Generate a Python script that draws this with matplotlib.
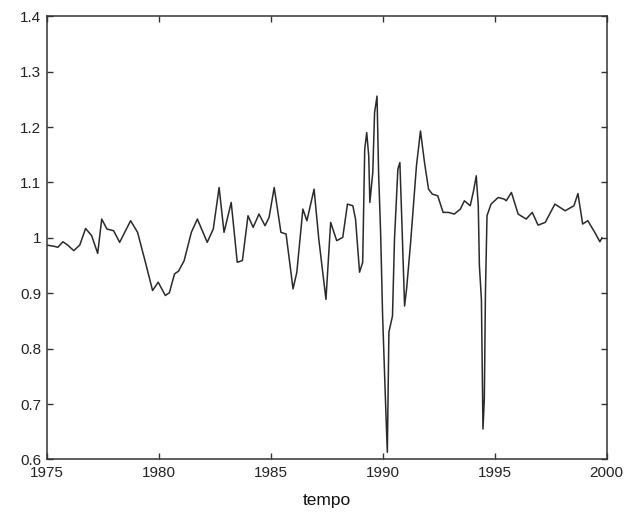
import matplotlib
matplotlib.use("Agg")
import matplotlib.pyplot as plt

# series (time in years, ratio value)
tempo = [
    1975.00, 1975.32, 1975.50, 1975.73, 1975.94, 1976.21, 1976.48, 1976.74,
    1977.01, 1977.28, 1977.46, 1977.69, 1977.99, 1978.26, 1978.75, 1979.06,
    1979.41, 1979.73, 1979.98, 1980.30, 1980.48, 1980.71, 1980.89, 1981.14,
    1981.46, 1981.73, 1982.17, 1982.44, 1982.70, 1982.92, 1983.24, 1983.51,
    1983.74, 1983.99, 1984.22, 1984.48, 1984.75, 1984.93, 1985.16, 1985.46,
    1985.69, 1986.00, 1986.17, 1986.44, 1986.62, 1986.94, 1987.15, 1987.47,
    1987.68, 1987.95, 1988.22, 1988.43, 1988.67, 1988.79, 1988.97, 1989.11,
    1989.20, 1989.29, 1989.38, 1989.43, 1989.56, 1989.64, 1989.75, 1989.82,
    1989.91, 1990.00, 1990.14, 1990.21, 1990.28, 1990.44, 1990.53, 1990.68,
    1990.77, 1990.85, 1990.98, 1991.07, 1991.25, 1991.51, 1991.69, 1991.87,
    1992.05, 1992.22, 1992.46, 1992.70, 1992.94, 1993.20, 1993.47, 1993.65,
    1993.91, 1994.06, 1994.18, 1994.27, 1994.32, 1994.41, 1994.48, 1994.54,
    1994.59, 1994.66, 1994.84, 1995.16, 1995.43, 1995.52, 1995.75, 1996.05,
    1996.41, 1996.68, 1996.94, 1997.26, 1997.69, 1998.15, 1998.54, 1998.72,
    1998.93, 1999.16, 1999.47, 1999.70, 1999.79,
]
valore = [
    0.987, 0.985, 0.983, 0.993, 0.987, 0.977, 0.987, 1.017,
    1.004, 0.972, 1.034, 1.016, 1.013, 0.992, 1.031, 1.010,
    0.956, 0.905, 0.920, 0.896, 0.901, 0.935, 0.940, 0.959,
    1.010, 1.034, 0.992, 1.016, 1.091, 1.010, 1.064, 0.956,
    0.959, 1.040, 1.019, 1.043, 1.022, 1.037, 1.091, 1.010,
    1.007, 0.908, 0.938, 1.052, 1.031, 1.088, 0.998, 0.889,
    1.028, 0.995, 1.001, 1.061, 1.058, 1.034, 0.938, 0.956,
    1.160, 1.190, 1.148, 1.064, 1.118, 1.226, 1.256, 1.118,
    1.010, 0.859, 0.691, 0.613, 0.830, 0.859, 0.998, 1.124,
    1.136, 1.040, 0.877, 0.908, 0.992, 1.130, 1.193, 1.136,
    1.088, 1.079, 1.076, 1.046, 1.046, 1.043, 1.052, 1.067,
    1.058, 1.085, 1.112, 1.058, 0.950, 0.889, 0.655, 0.709,
    0.901, 1.040, 1.061, 1.073, 1.070, 1.067, 1.082, 1.043,
    1.034, 1.046, 1.023, 1.028, 1.061, 1.049, 1.058, 1.080,
    1.025, 1.031, 1.010, 0.993, 1.000,
]
xticks = [1975, 1980, 1985, 1990, 1995, 2000]
yticks = [0.6, 0.7, 0.8, 0.9, 1.0, 1.1, 1.2, 1.3, 1.4]
ytick_labels = ["0.6", "0.7", "0.8", "0.9", "1", "1.1", "1.2", "1.3", "1.4"]

plt.rcParams["font.family"] = ["Liberation Sans", "DejaVu Sans"]

fig = plt.figure(figsize=(6.25, 5.18), dpi=100)
ax = fig.add_axes([0.0746, 0.113, 0.896, 0.8555])

ax.plot(tempo, valore, color="#2a2a2a", linewidth=1.1)

ax.set_xlim(1975, 2000)
ax.set_ylim(0.6, 1.4)
ax.set_xticks(xticks)
ax.set_yticks(yticks)
ax.set_yticklabels(ytick_labels)

# MATLAB-style box: inward ticks on all four sides
ax.tick_params(direction="in", length=4.5, width=1.0, color="#333333",
               top=True, right=True, labelsize=11, labelcolor="#222222")
ax.tick_params(axis="x", pad=5)
ax.tick_params(axis="y", pad=4)
for s in ax.spines.values():
    s.set_color("#333333")
    s.set_linewidth(1.1)

ax.set_xlabel("tempo", fontsize=12.5, labelpad=9, color="#111111")

fig.savefig("out.png", dpi=100)
